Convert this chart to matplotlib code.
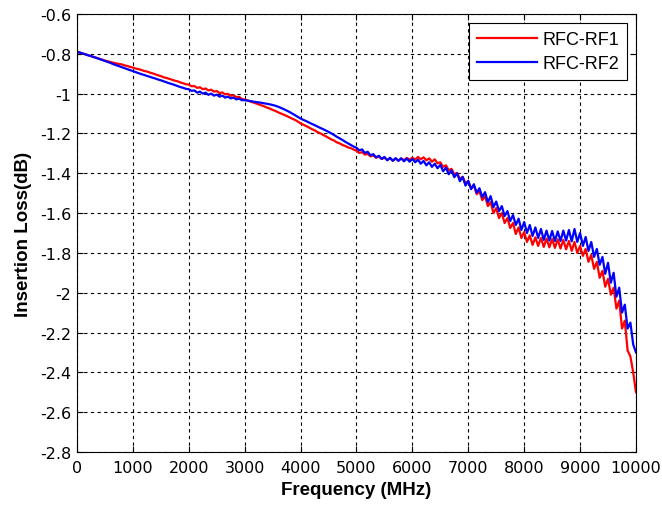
import numpy as np
import matplotlib
matplotlib.use("Agg")
import matplotlib.pyplot as plt

# Frequenze campionate ogni 50 MHz (0 ... 10000)
freq_mhz = np.arange(0, 10001, 50)

# RFC-RF1 (rosso), valori
rf1_db = [
    -0.790, -0.793, -0.799, -0.802, -0.808, -0.811, -0.817, -0.820, -0.825, -0.829,
    -0.834, -0.838, -0.841, -0.845, -0.848, -0.851, -0.853, -0.858, -0.861, -0.866,
    -0.869, -0.874, -0.877, -0.881, -0.886, -0.889, -0.894, -0.898, -0.903, -0.908,
    -0.912, -0.918, -0.921, -0.926, -0.930, -0.935, -0.938, -0.944, -0.948, -0.953,
    -0.955, -0.963, -0.962, -0.971, -0.968, -0.978, -0.974, -0.984, -0.980, -0.990,
    -0.987, -0.997, -0.994, -1.004, -1.001, -1.011, -1.008, -1.018, -1.016, -1.027,
    -1.030, -1.034, -1.040, -1.044, -1.049, -1.054, -1.059, -1.064, -1.070, -1.075,
    -1.082, -1.087, -1.094, -1.100, -1.106, -1.112, -1.119, -1.126, -1.132, -1.140,
    -1.150, -1.156, -1.163, -1.170, -1.178, -1.184, -1.193, -1.199, -1.207, -1.214,
    -1.222, -1.230, -1.236, -1.245, -1.250, -1.258, -1.263, -1.270, -1.274, -1.281,
    -1.287, -1.298, -1.294, -1.306, -1.303, -1.315, -1.310, -1.322, -1.316, -1.328,
    -1.322, -1.333, -1.325, -1.336, -1.327, -1.335, -1.326, -1.334, -1.323, -1.332,
    -1.322, -1.331, -1.318, -1.330, -1.320, -1.335, -1.325, -1.342, -1.330, -1.350,
    -1.345, -1.368, -1.360, -1.385, -1.378, -1.405, -1.398, -1.428, -1.418, -1.450,
    -1.440, -1.475, -1.462, -1.505, -1.490, -1.535, -1.515, -1.565, -1.545, -1.600,
    -1.575, -1.625, -1.600, -1.650, -1.625, -1.675, -1.650, -1.705, -1.672, -1.725,
    -1.695, -1.745, -1.712, -1.760, -1.722, -1.765, -1.725, -1.770, -1.728, -1.772,
    -1.730, -1.775, -1.732, -1.778, -1.735, -1.782, -1.740, -1.790, -1.745, -1.800,
    -1.765, -1.815, -1.780, -1.845, -1.810, -1.880, -1.845, -1.925, -1.890, -1.970,
    -1.930, -2.010, -1.975, -2.080, -2.040, -2.180, -2.140, -2.290, -2.320, -2.400,
    -2.500,
]

# RFC-RF2 (blu)
rf2_db = [
    -0.790, -0.794, -0.798, -0.803, -0.807, -0.812, -0.816, -0.821, -0.826, -0.831,
    -0.836, -0.841, -0.846, -0.852, -0.857, -0.862, -0.867, -0.872, -0.877, -0.882,
    -0.887, -0.892, -0.897, -0.902, -0.906, -0.911, -0.915, -0.920, -0.924, -0.929,
    -0.933, -0.938, -0.943, -0.948, -0.952, -0.957, -0.962, -0.967, -0.971, -0.976,
    -0.978, -0.986, -0.984, -0.995, -0.990, -1.000, -0.995, -1.006, -1.000, -1.010,
    -1.005, -1.015, -1.010, -1.020, -1.015, -1.024, -1.020, -1.029, -1.025, -1.033,
    -1.033, -1.035, -1.037, -1.040, -1.042, -1.044, -1.046, -1.049, -1.051, -1.054,
    -1.057, -1.061, -1.066, -1.072, -1.078, -1.085, -1.092, -1.100, -1.108, -1.117,
    -1.125, -1.132, -1.138, -1.145, -1.152, -1.158, -1.165, -1.172, -1.178, -1.185,
    -1.192, -1.200, -1.208, -1.217, -1.225, -1.233, -1.242, -1.250, -1.258, -1.266,
    -1.272, -1.285, -1.280, -1.298, -1.292, -1.310, -1.304, -1.320, -1.312, -1.328,
    -1.318, -1.335, -1.322, -1.338, -1.324, -1.338, -1.325, -1.340, -1.326, -1.342,
    -1.328, -1.345, -1.332, -1.352, -1.338, -1.360, -1.345, -1.368, -1.352, -1.375,
    -1.358, -1.390, -1.372, -1.405, -1.385, -1.420, -1.400, -1.440, -1.418, -1.462,
    -1.438, -1.480, -1.455, -1.498, -1.475, -1.520, -1.495, -1.545, -1.515, -1.570,
    -1.542, -1.590, -1.565, -1.615, -1.590, -1.640, -1.610, -1.660, -1.628, -1.685,
    -1.645, -1.700, -1.660, -1.715, -1.672, -1.725, -1.680, -1.735, -1.688, -1.738,
    -1.690, -1.740, -1.692, -1.740, -1.688, -1.738, -1.685, -1.742, -1.680, -1.745,
    -1.700, -1.765, -1.720, -1.790, -1.745, -1.820, -1.780, -1.860, -1.820, -1.905,
    -1.850, -1.950, -1.900, -2.020, -1.975, -2.100, -2.060, -2.180, -2.150, -2.260,
    -2.300,
]

x_ticks = list(range(0, 10001, 1000))
y_ticks = [-2.8, -2.6, -2.4, -2.2, -2.0, -1.8, -1.6, -1.4, -1.2, -1.0, -0.8, -0.6]

plt.rcParams['font.family'] = ['DejaVu Sans']

fig = plt.figure(figsize=(6.62, 5.10), dpi=100)
ax = fig.add_axes([0.1163, 0.1118, 0.8444, 0.8588])

ax.plot(freq_mhz, rf1_db, color='#ff0000', linewidth=1.6, label='RFC-RF1')
ax.plot(freq_mhz, rf2_db, color='#0000ff', linewidth=1.6, label='RFC-RF2')

ax.set_xlim(0, 10000)
ax.set_ylim(-2.8, -0.6)
ax.set_xticks(x_ticks)
ax.set_yticks(y_ticks)
ax.set_yticklabels([f"{v:g}" for v in y_ticks])
ax.tick_params(direction='in', top=True, right=True, labelsize=11.5, length=4, width=0.8)
ax.tick_params(axis='x', pad=6)
ax.tick_params(axis='y', pad=4)
ax.grid(True, color='black', linestyle=(0, (3, 3)), linewidth=0.8)
for sp in ax.spines.values():
    sp.set_linewidth(0.8)

ax.set_xlabel('Frequency (MHz)', fontsize=13.5, fontweight='bold',
              family='Liberation Sans', labelpad=4)
ax.set_ylabel('Insertion Loss(dB)', fontsize=13.5, fontweight='bold',
              family='Liberation Sans', labelpad=6)

leg = ax.legend(loc='upper right', prop={'family': 'Liberation Sans', 'size': 13},
                fancybox=False, framealpha=1, edgecolor='black',
                borderaxespad=0.5, handlelength=3.3, handletextpad=0.3,
                labelspacing=0.4, borderpad=0.45)
leg.get_frame().set_linewidth(0.8)

fig.savefig('out.png', dpi=100)
